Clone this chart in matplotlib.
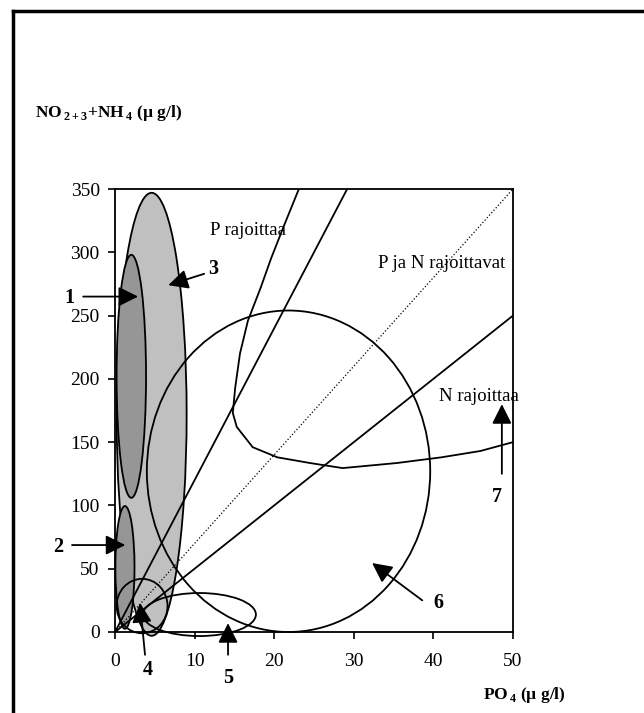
import numpy as np
import matplotlib.pyplot as plt
from matplotlib.patches import Ellipse
from matplotlib.lines import Line2D

plt.rcParams['font.family'] = ['Liberation Serif', 'DejaVu Serif']
plt.rcParams['mathtext.fontset'] = 'custom'
plt.rcParams['mathtext.rm'] = 'Liberation Serif:bold'
plt.rcParams['mathtext.bf'] = 'Liberation Serif:bold'

# --- data: areas (ellipses) in PO4 / NO2+3+NH4 space ---
area_x = [4.6, 2.05, 1.25, 3.4, 10.6, 21.8]          # centre PO4
area_y = [172.0, 202.0, 51.0, 20.5, 13.8, 127.0]      # centre N
area_w = [8.8, 3.7, 2.4, 6.4, 14.2, 35.6]             # width (PO4)
area_h = [350.0, 192.0, 97.0, 43.0, 34.0, 254.0]      # height (N)
area_fill = ['#c0c0c0', '#969696', '#969696', 'none', 'none', 'none']

# N:P ratio lines from origin
ratio_steep = 12.0
ratio_redfield = 7.0
ratio_low = 5.0

# curve 7
curve_x = [23.1, 21.1, 19.6, 18.3, 16.7, 15.7, 15.1, 14.8, 15.3, 17.3, 20.4, 24.5, 28.6, 35.4, 41.0, 45.9, 50.0]
curve_y = [350, 319, 295, 272, 246, 220, 193, 173, 162, 146, 138, 133.5, 129.5, 133.5, 138, 143, 150]

# numbered arrows: label, label pos, arrow tail, arrow head
num_labels = ['1', '2', '3', '4', '5', '6', '7']
num_pos = [(-5.7, 264), (-7.1, 67), (12.4, 287), (4.15, -30), (14.2, -36), (40.6, 23), (48.0, 107)]
arrow_tail = [(-4.0, 265), (-5.4, 68.7), (11.2, 283), (3.77, -18), (14.2, -18), (38.6, 25), (48.6, 125)]
arrow_head = [(2.9, 265), (1.3, 68.7), (6.7, 274), (3.14, 23), (14.2, 7), (32.3, 54.5), (48.6, 180)]

fig = plt.figure(figsize=(6.44, 7.13), dpi=100)
ax = fig.add_axes([115/644, 1 - 632/713, 398/644, 443/713])

for cx, cy, w, h, fc in zip(area_x, area_y, area_w, area_h, area_fill):
    ax.add_patch(Ellipse((cx, cy), w, h, facecolor=fc, edgecolor='black', lw=1.3, clip_on=False))

# ratio lines
ax.plot([0, 350 / ratio_steep], [0, 350], color='black', lw=1.3)
ax.plot([0, 50], [0, 50 * ratio_redfield], color='black', lw=0.9, linestyle=':')
ax.plot([0, 50], [0, 50 * ratio_low], color='black', lw=1.3)
ax.plot(curve_x, curve_y, color='black', lw=1.3)

ax.text(11.9, 317, 'P rajoittaa', fontsize=13.5, va='center')
ax.text(33.0, 291, 'P ja N rajoittavat', fontsize=13.5, va='center')
ax.text(40.7, 186, 'N rajoittaa', fontsize=13.5, va='center')

for lab, pos, t, h in zip(num_labels, num_pos, arrow_tail, arrow_head):
    ax.text(pos[0], pos[1], lab, fontsize=14.5, fontweight='bold', ha='center', va='center')
    ax.annotate('', xy=h, xytext=t, annotation_clip=False,
                arrowprops=dict(arrowstyle='-|>,head_length=0.4,head_width=0.2', mutation_scale=30,
                                color='black', lw=1.3, shrinkA=0, shrinkB=0))

ax.set_xlim(0, 50)
ax.set_ylim(0, 350)
ax.set_xticks(np.arange(0, 51, 10))
ax.set_yticks(np.arange(0, 351, 50))
ax.tick_params(axis='both', direction='out', length=5, width=1.2, labelsize=14)
ax.tick_params(axis='x', pad=10)
ax.tick_params(axis='y', pad=6)
for s in ax.spines.values():
    s.set_linewidth(1.3)

fig.text(35/644, 1 - 113/713, 'NO$_{\\,2+3}$+NH$_{\\,4}$ (µ g/l)', fontsize=12.5, fontweight='bold', va='center')
fig.text(483/644, 1 - 695/713, 'PO$_{\\,4}$ (µ g/l)', fontsize=12.5, fontweight='bold', va='center')

# outer frame (left and top only)
fig.add_artist(Line2D([13/644, 13/644], [0, 1 - 11/713], color='black', lw=2.5, transform=fig.transFigure))
fig.add_artist(Line2D([13/644, 1], [1 - 11/713, 1 - 11/713], color='black', lw=2.5, transform=fig.transFigure))

fig.savefig('out.png', dpi=100)
